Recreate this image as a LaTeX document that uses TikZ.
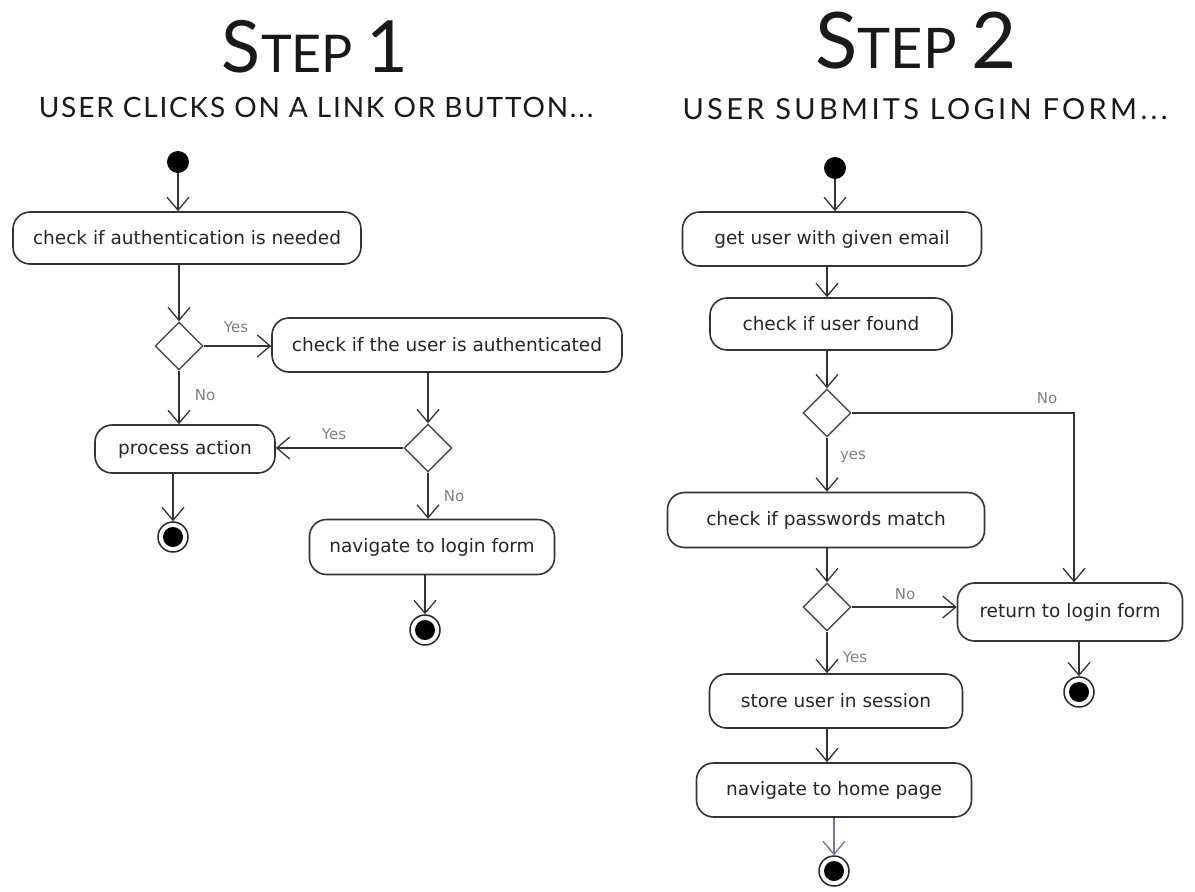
\documentclass[tikz,border=0pt]{standalone}
\usepackage{fontspec}
\setmainfont{DejaVu Sans}
\newfontfamily\titlefont{Lato}
\usetikzlibrary{shapes.geometric,arrows.meta}
\begin{document}
\begin{tikzpicture}[x=1pt,y=-1pt,
  action/.style={draw=black!80, line width=1.6pt, rounded corners=17pt, fill=white,
    font=\fontsize{18.5}{20}\selectfont, text=black!85, inner sep=0pt},
  decision/.style={draw=black!70, line width=1.4pt, diamond, fill=white,
    minimum width=48pt, minimum height=48pt, inner sep=0pt},
  startdot/.style={circle, fill=black, minimum size=22pt, inner sep=0pt},
  enddot/.style={circle, draw=black!85, line width=1.5pt, minimum size=30pt, inner sep=0pt,
    path picture={\fill[black] (path picture bounding box.center) circle (10pt);}},
  flow/.style={draw=black!80, line width=1.3pt,
    -{Straight Barb[length=13pt,width=22pt,line width=1.3pt]}},
  guard/.style={text=black!50, font=\fontsize{15}{17}\selectfont, inner sep=1pt},
  heading/.style={font=\titlefont, text=black!90, inner sep=0pt},
]
\useasboundingbox (0,0) rectangle (1195,892);

% ---------- headings ----------
\node[heading] (t1) at (315,47)
  {{\fontsize{72}{72}\selectfont S}{\fontsize{52}{52}\selectfont TEP }{\fontsize{72}{72}\selectfont 1}};
\node[heading] (s1) at (316,107)
  {\addfontfeatures{LetterSpace=6.5}\fontsize{28}{30}\selectfont USER CLICKS ON A LINK OR BUTTON...};
\node[heading] (t2) at (916,41)
  {{\fontsize{78}{78}\selectfont S}{\fontsize{56}{56}\selectfont TEP }{\fontsize{78}{78}\selectfont 2}};
\node[heading] (s2) at (925,109)
  {\addfontfeatures{LetterSpace=11.5}\fontsize{29}{31}\selectfont USER SUBMITS LOGIN FORM...};

% ---------- step 1 ----------
\node[startdot] (st1) at (178,162) {};
\node[action, minimum width=348pt, minimum height=52pt] (A) at (187,238) {check if authentication is needed};
\node[decision] (D1) at (179,346) {};
\node[action, minimum width=350pt, minimum height=54pt] (B) at (447,345) {check if the user is authenticated};
\node[action, minimum width=180pt, minimum height=48pt] (C) at (185,449) {process action};
\node[decision] (D2) at (428,448) {};
\node[action, minimum width=245pt, minimum height=55pt] (E) at (432,547) {navigate to login form};
\node[enddot] (f1) at (173,537) {};
\node[enddot] (f2) at (425,630) {};

\draw[flow] (st1.south) -- (st1 |- A.north);
\draw[flow] (D1 |- A.south) -- (D1.north);
\draw[flow] (D1.east) -- (D1.east -| B.west);
\draw[flow] (D1.south) -- (D1 |- C.north);
\draw[flow] (D2 |- B.south) -- (D2.north);
\draw[flow] (D2.west) -- (D2.west -| C.east);
\draw[flow] (D2.south) -- (D2 |- E.north);
\draw[flow] (f1 |- C.south) -- (f1.north);
\draw[flow] (f2 |- E.south) -- (f2.north);

\node[guard] (y1) at (236,327) {Yes};
\node[guard] (n1) at (205,395) {No};
\node[guard] (y2) at (334,434) {Yes};
\node[guard] (n2) at (454,496) {No};

% ---------- step 2 ----------
\node[startdot] (st2) at (835,168) {};
\node[action, minimum width=299pt, minimum height=54pt] (F) at (832,239) {get user with given email};
\node[action, minimum width=242pt, minimum height=52pt] (G) at (831,324) {check if user found};
\node[decision] (D3) at (827,413) {};
\node[action, minimum width=317pt, minimum height=55pt] (H) at (826,520) {check if passwords match};
\node[decision] (D4) at (827,607) {};
\node[action, minimum width=225pt, minimum height=58pt] (K) at (1070,612) {return to login form};
\node[action, minimum width=253pt, minimum height=54pt] (L) at (836,701) {store user in session};
\node[action, minimum width=275pt, minimum height=54pt] (M) at (834,790) {navigate to home page};
\node[enddot] (f3) at (1079,692) {};
\node[enddot] (f4) at (834,871) {};

\draw[flow] (st2.south) -- (st2 |- F.north);
\draw[flow] (D3 |- F.south) -- (D3 |- G.north);
\draw[flow] (D3 |- G.south) -- (D3.north);
\draw[flow] (D3.south) -- (D3 |- H.north);
\draw[flow] (D3.east) -| ([xshift=4pt]K.north);
\draw[flow] (D4 |- H.south) -- (D4.north);
\draw[flow] (D4.east) -- (D4.east -| K.west);
\draw[flow] (D4.south) -- (D4 |- L.north);
\draw[flow] (D4 |- L.south) -- (D4 |- M.north);
\draw[flow] (f3 |- K.south) -- (f3.north);
\draw[flow, draw=blue!30!black!55] (f4 |- M.south) -- (f4.north);

\node[guard] (n3) at (1047,398) {No};
\node[guard] (y3) at (853,457) {yes};
\node[guard] (n4) at (905,594) {No};
\node[guard] (y4) at (855,657) {Yes};
\end{tikzpicture}
\end{document}
